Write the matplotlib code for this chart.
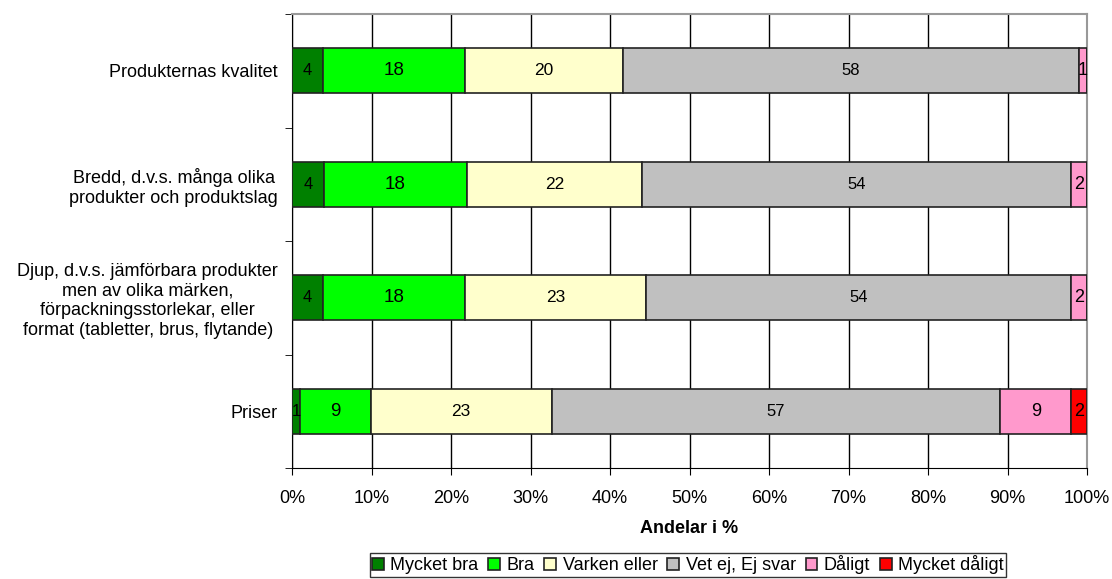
import numpy as np
import matplotlib
matplotlib.use('Agg')
import matplotlib.pyplot as plt
from matplotlib.ticker import PercentFormatter

plt.rcParams['font.family'] = ['Liberation Sans', 'DejaVu Sans']

# categories top to bottom
categories = ['Produkternas kvalitet',
              'Bredd, d.v.s. många olika\nprodukter och produktslag',
              'Djup, d.v.s. jämförbara produkter\nmen av olika märken,\n'
              'förpackningsstorlekar, eller\nformat (tabletter, brus, flytande)',
              'Priser']

series = ['Mycket bra', 'Bra', 'Varken eller', 'Vet ej, Ej svar', 'Dåligt', 'Mycket dåligt']
colors = ['#008000', '#00FF00', '#FFFFCC', '#C0C0C0', '#FF99CC', '#FF0000']

mycket_bra = [4, 4, 4, 1]
bra = [18, 18, 18, 9]
varken = [20, 22, 23, 23]
vet_ej = [58, 54, 54, 57]
daligt = [1, 2, 2, 9]
mycket_daligt = [0, 0, 0, 2]

vals = np.array([mycket_bra, bra, varken, vet_ej, daligt, mycket_daligt], dtype=float)
shares = vals / vals.sum(axis=0) * 100  # 100% stacked like the original

fig = plt.figure(figsize=(11.12, 5.79), dpi=100)
ax = fig.add_axes([292 / 1112, 1 - 468 / 579, 795 / 1112, 454 / 579])

y = np.arange(len(categories))
left = np.zeros(len(categories))
label_sizes = [12, 13.5, 12.5, 12, 13, 13]
for i, name in enumerate(series):
    bars = ax.barh(y, shares[i], left=left, height=0.4, color=colors[i],
                   edgecolor='#222222', linewidth=1.2, label=name, zorder=3)
    for j, b in enumerate(bars):
        if vals[i, j] > 0:
            ax.text(left[j] + shares[i, j] / 2, y[j], '%d' % vals[i, j],
                    ha='center', va='center', fontsize=label_sizes[i], zorder=4)
    left = left + shares[i]

ax.set_xlim(0, 100)
ax.set_ylim(len(categories) - 0.5, -0.5)
ax.xaxis.set_major_locator(plt.MultipleLocator(10))
ax.xaxis.set_major_formatter(PercentFormatter(decimals=0))
ax.tick_params(axis='x', labelsize=13, length=5, direction='out', pad=11)
ax.grid(axis='x', color='black', linewidth=1, zorder=0)

ax.set_yticks(y)
ax.set_yticklabels(categories, multialignment='center', fontsize=13)
ax.set_yticks(np.arange(len(categories) + 1) - 0.5, minor=True)
ax.tick_params(axis='y', which='major', length=0, pad=10)
ax.tick_params(axis='y', which='minor', length=5, direction='out')

ax.set_xlabel('Andelar i %', fontsize=13, fontweight='bold', labelpad=9)

for s in ['top', 'right']:
    ax.spines[s].set_color('#999999')
    ax.spines[s].set_linewidth(1.5)
for s in ['left', 'bottom']:
    ax.spines[s].set_color('black')

fig.legend(loc='lower center', bbox_to_anchor=(688 / 1112, 2 / 579), ncol=6,
           fontsize=13, frameon=True, fancybox=False, edgecolor='black',
           handlelength=0.65, handleheight=0.65, handletextpad=0.35,
           columnspacing=0.55, borderpad=0.15, borderaxespad=0)

fig.savefig('out.png', dpi=100)
